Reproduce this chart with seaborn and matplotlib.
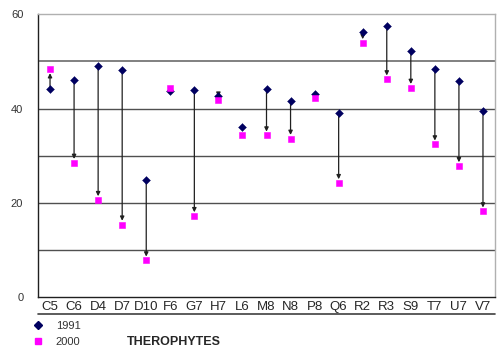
import numpy as np
import pandas as pd
import seaborn as sns
import matplotlib
matplotlib.use("Agg")
import matplotlib.pyplot as plt
from matplotlib.lines import Line2D

sites = ["C5", "C6", "D4", "D7", "D10", "F6", "G7", "H7", "L6", "M8",
         "N8", "P8", "Q6", "R2", "R3", "S9", "T7", "U7", "V7"]
y1991 = [44.1, 46.1, 49.0, 48.1, 24.8, 43.7, 44.0, 42.6, 36.1, 44.1,
         41.6, 43.0, 39.0, 56.3, 57.6, 52.3, 48.3, 45.8, 39.5]
y2000 = [48.3, 28.5, 20.6, 15.4, 7.8, 44.4, 17.2, 41.7, 34.4, 34.3,
         33.6, 42.3, 24.2, 53.9, 46.2, 44.4, 32.4, 27.8, 18.2]

sns.set_style("white")
plt.rcParams['font.family'] = ['Liberation Sans', 'DejaVu Sans']

df = pd.DataFrame({"site": sites, "1991": y1991, "2000": y2000})
df["x"] = np.arange(len(sites))

fig = plt.figure(figsize=(5, 3.55), dpi=100)
ax = fig.add_axes([0.076, 0.163, 0.914, 0.797])

# grid lines every 10
for g in [10, 20, 30, 40, 50]:
    ax.axhline(g, color="#808080" if g == 50 else "#505050", lw=1.4 if g == 50 else 1, zorder=0)

# arrows 1991 -> 2000
for i, row in df.iterrows():
    d = row["2000"] - row["1991"]
    if abs(d) < 0.8:
        continue
    sgn = 1 if d > 0 else -1
    ax.annotate("", xy=(row["x"], row["2000"] - sgn * 0.8), xytext=(row["x"], row["1991"]),
                arrowprops=dict(arrowstyle="-|>", color="#202020", lw=0.9,
                                mutation_scale=6, shrinkA=0, shrinkB=0), zorder=2)

sns.scatterplot(data=df, x="x", y="1991", marker="D", color="#000060", s=16,
                edgecolor="#000060", ax=ax, zorder=3)
sns.scatterplot(data=df, x="x", y="2000", marker="s", color="#ff00ff", s=24,
                edgecolor="#ff00ff", ax=ax, zorder=3)

ax.set_xlim(-0.5, len(sites) - 0.5)
ax.set_ylim(0, 60)
ax.set_xlabel("")
ax.set_ylabel("")
ax.set_yticks([0, 20, 40, 60])
ax.set_yticklabels(["0", "20", "40", "60"], color="#333333", fontsize=8)
ax.set_xticks(df["x"])
ax.set_xticklabels(sites, fontsize=9.5)
ax.set_xticks(np.arange(-0.5, len(sites), 1), minor=True)
ax.tick_params(axis="x", which="major", length=0, pad=3)
ax.tick_params(axis="x", which="minor", length=5, direction="out", color="#333333")
ax.tick_params(axis="y", length=3.6, direction="out", color="#333333", pad=7)

for s in ["left", "bottom"]:
    ax.spines[s].set_color("#202020")
    ax.spines[s].set_linewidth(1)
for s in ["top", "right"]:
    ax.spines[s].set_color("#b0b0b0")
    ax.spines[s].set_linewidth(1)

# line under category labels
ax.add_line(Line2D([0, 1], [-0.06, -0.06], transform=ax.transAxes, color="#404040",
                   lw=1.2, clip_on=False))

handles = [Line2D([], [], marker="D", color="#000060", ls="", markersize=4),
           Line2D([], [], marker="s", color="#ff00ff", ls="", markersize=4.5)]
fig.legend(handles, ["1991", "2000"], loc="upper left", bbox_to_anchor=(0.054, 0.095),
           frameon=False, fontsize=8, handletextpad=0.6, labelspacing=0.55,
           borderpad=0, borderaxespad=0, labelcolor="#333333")

fig.text(0.254, 0.037, "THEROPHYTES", fontsize=9, fontweight="bold", va="center")

fig.savefig("out.png", dpi=100)
